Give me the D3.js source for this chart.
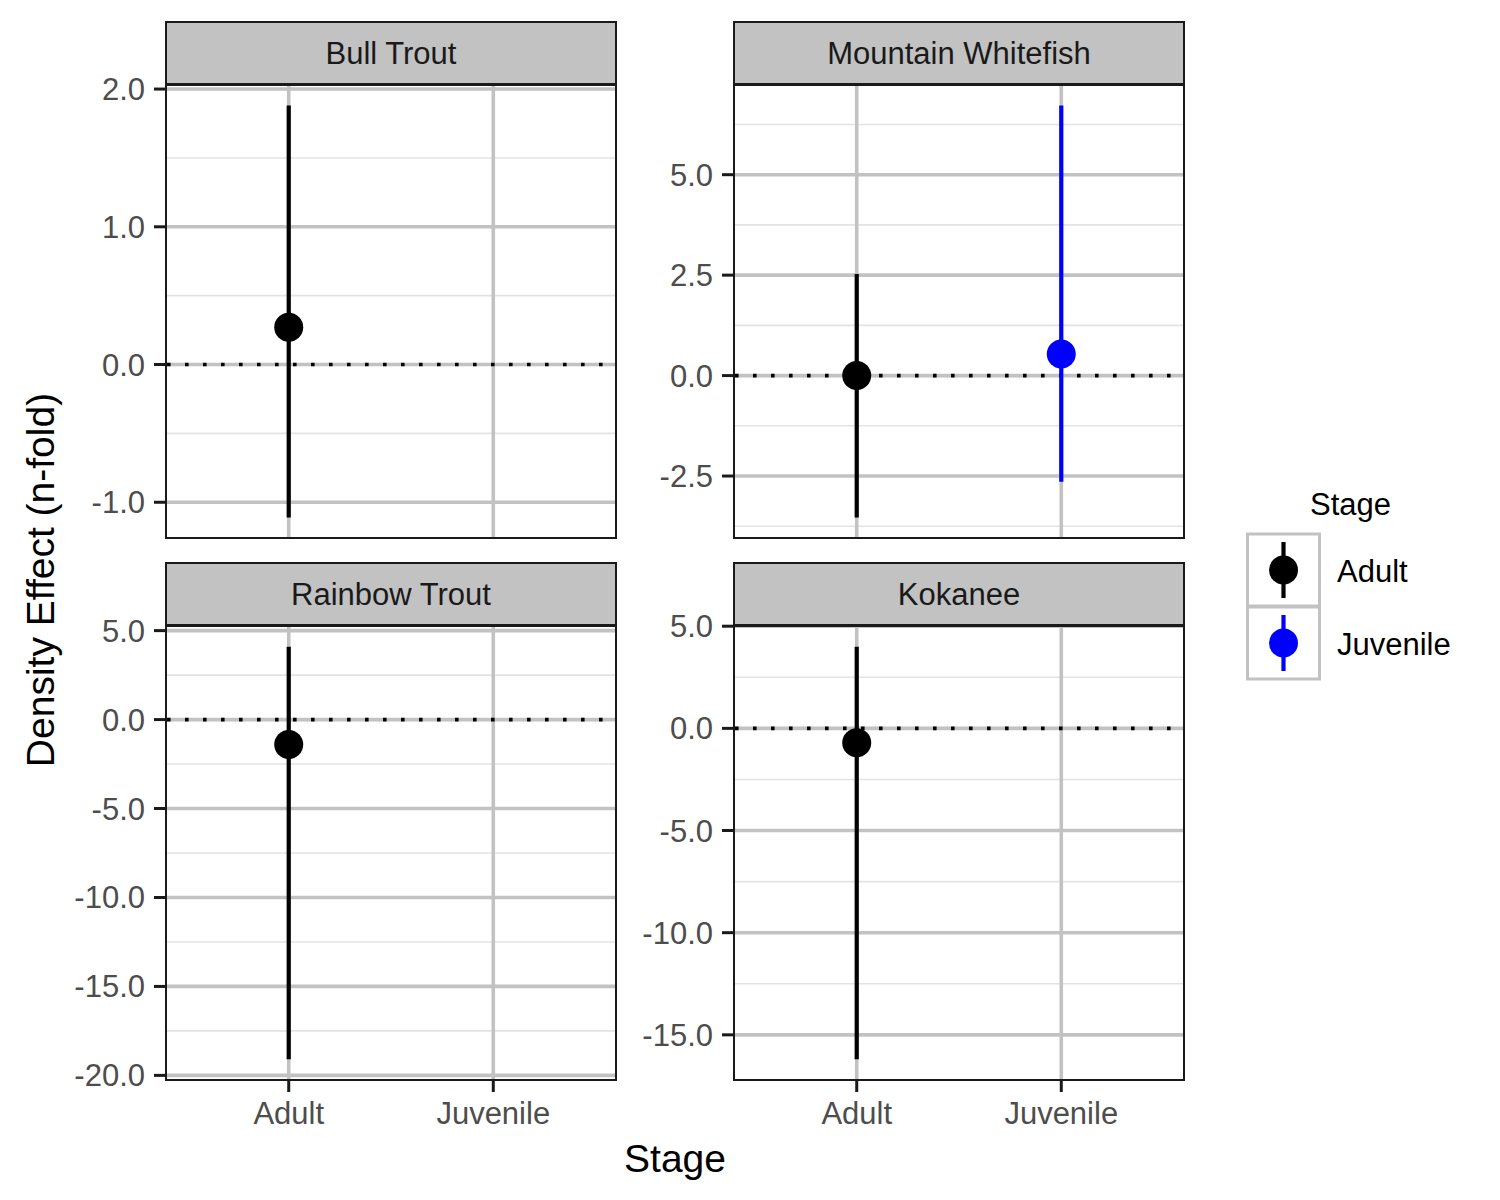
<!DOCTYPE html>
<html>
<head>
<meta charset="utf-8">
<script src="https://cdn.jsdelivr.net/npm/d3@7"></script>
<style>
  html, body { margin: 0; padding: 0; background: #fff; }
  text { font-family: "Liberation Sans", Arial, sans-serif; }
</style>
</head>
<body>
<svg id="chart" width="1500" height="1200"></svg>
<script>
// ---- data ----
const species = ["Bull Trout", "Mountain Whitefish", "Rainbow Trout", "Kokanee"];
const stages = ["Adult", "Juvenile"];
const stageColors = ["#000000", "#0000FF"];
// estimates, lower and upper bounds per species per stage (null = absent)
const estimates = [[0.27, null], [0.0, 0.54], [-1.4, null], [-0.7, null]];
const lowers    = [[-1.11, null], [-3.53, -2.64], [-19.1, null], [-16.2, null]];
const uppers    = [[1.88, null], [2.53, 6.72], [4.1, null], [4.0, null]];
const yTicks = [[-1, 0, 1, 2], [-2.5, 0, 2.5, 5], [-20, -15, -10, -5, 0, 5], [-15, -10, -5, 0, 5]];
const yMinor = [[-0.5, 0.5, 1.5], [-3.75, -1.25, 1.25, 3.75, 6.25], [-17.5, -12.5, -7.5, -2.5, 2.5], [-12.5, -7.5, -2.5, 2.5]];
const xTitle = "Stage";
const yTitle = "Density Effect (n-fold)";
const legendTitle = "Stage";

// ---- layout ----
const svg = d3.select("#chart");
const colX = [[166, 616], [734, 1184]];
const rowY = [{strip: 22, top: 85, bottom: 538}, {strip: 563, top: 626, bottom: 1080}];
const fmt = v => d3.format(".1f")(v).replace("\u2212", "-");

species.forEach((sp, i) => {
  const col = i % 2, row = Math.floor(i / 2);
  const [x0, x1] = colX[col];
  const {strip, top, bottom} = rowY[row];
  const g = svg.append("g");

  // y domain with 5% expansion
  const vals = [];
  stages.forEach((s, j) => {
    if (estimates[i][j] !== null) vals.push(lowers[i][j], uppers[i][j], estimates[i][j]);
  });
  const lo = d3.min(vals), hi = d3.max(vals), pad = (hi - lo) * 0.05;
  const y = d3.scaleLinear().domain([lo - pad, hi + pad]).range([bottom, top]);
  const x = d3.scalePoint().domain(stages).range([x0, x1]).padding(0.6);

  // background
  g.append("rect").attr("x", x0).attr("y", top).attr("width", x1 - x0).attr("height", bottom - top).attr("fill", "#fff");

  const clip = "clip" + i;
  svg.append("clipPath").attr("id", clip).append("rect")
    .attr("x", x0).attr("y", top).attr("width", x1 - x0).attr("height", bottom - top);
  const pg = g.append("g").attr("clip-path", `url(#${clip})`);

  // minor grid
  pg.selectAll(".minor").data(yMinor[i]).join("line")
    .attr("x1", x0).attr("x2", x1).attr("y1", d => y(d)).attr("y2", d => y(d))
    .attr("stroke", "#e3e3e3").attr("stroke-width", 1.6);
  // major grid
  pg.selectAll(".major").data(yTicks[i]).join("line")
    .attr("x1", x0).attr("x2", x1).attr("y1", d => y(d)).attr("y2", d => y(d))
    .attr("stroke", "#c2c2c2").attr("stroke-width", 3.6);
  pg.selectAll(".vmajor").data(stages).join("line")
    .attr("x1", d => x(d)).attr("x2", d => x(d)).attr("y1", top).attr("y2", bottom)
    .attr("stroke", "#c2c2c2").attr("stroke-width", 3.6);

  // zero dotted line
  pg.append("line").attr("x1", x0).attr("x2", x1).attr("y1", y(0)).attr("y2", y(0))
    .attr("stroke", "#000").attr("stroke-width", 3.6).attr("stroke-dasharray", "3.6,14.4")
    .attr("stroke-dashoffset", -1);

  // error bars and points
  stages.forEach((s, j) => {
    if (estimates[i][j] === null) return;
    pg.append("line").attr("x1", x(s)).attr("x2", x(s))
      .attr("y1", y(lowers[i][j])).attr("y2", y(uppers[i][j]))
      .attr("stroke", stageColors[j]).attr("stroke-width", 4.2);
    pg.append("circle").attr("cx", x(s)).attr("cy", y(estimates[i][j])).attr("r", 14.5)
      .attr("fill", stageColors[j]);
  });

  // panel border
  g.append("rect").attr("x", x0).attr("y", top).attr("width", x1 - x0).attr("height", bottom - top)
    .attr("fill", "none").attr("stroke", "#1a1a1a").attr("stroke-width", 2);

  // strip
  g.append("rect").attr("x", x0).attr("y", strip).attr("width", x1 - x0).attr("height", top - strip)
    .attr("fill", "#c2c2c2").attr("stroke", "#1a1a1a").attr("stroke-width", 2);
  g.append("line").attr("x1", x0).attr("x2", x1).attr("y1", top - 0.5).attr("y2", top - 0.5)
    .attr("stroke", "#1a1a1a").attr("stroke-width", 3);
  g.append("text").attr("x", (x0 + x1) / 2).attr("y", top - 21).attr("text-anchor", "middle")
    .attr("font-size", 31).attr("fill", "#1a1a1a").text(sp);

  // y axis
  const ya = g.append("g");
  ya.selectAll("line").data(yTicks[i]).join("line")
    .attr("x1", x0 - 12).attr("x2", x0).attr("y1", d => y(d)).attr("y2", d => y(d))
    .attr("stroke", "#1a1a1a").attr("stroke-width", 3);
  ya.selectAll("text").data(yTicks[i]).join("text")
    .attr("x", x0 - 21).attr("y", d => y(d) + 11).attr("text-anchor", "end")
    .attr("font-size", 31).attr("fill", "#4d4d4d").text(d => fmt(d));

  // x axis on bottom row
  if (row === 1) {
    const xa = g.append("g");
    xa.selectAll("line").data(stages).join("line")
      .attr("x1", d => x(d)).attr("x2", d => x(d)).attr("y1", bottom).attr("y2", bottom + 12)
      .attr("stroke", "#1a1a1a").attr("stroke-width", 3);
    xa.selectAll("text").data(stages).join("text")
      .attr("x", d => x(d)).attr("y", bottom + 44).attr("text-anchor", "middle")
      .attr("font-size", 31).attr("fill", "#4d4d4d").text(d => d);
  }
});

// axis titles
svg.append("text").attr("x", 675).attr("y", 1172).attr("text-anchor", "middle")
  .attr("font-size", 39).attr("fill", "#000").text(xTitle);
svg.append("text").attr("transform", "translate(54,580) rotate(-90)").attr("text-anchor", "middle")
  .attr("font-size", 39).attr("fill", "#000").text(yTitle);

// legend
const lg = svg.append("g");
lg.append("text").attr("x", 1310).attr("y", 515).attr("font-size", 31).attr("fill", "#000").text(legendTitle);
stages.forEach((s, j) => {
  const ky = 534 + j * 73;
  lg.append("rect").attr("x", 1247.5).attr("y", ky).attr("width", 72).attr("height", 72)
    .attr("fill", "#fff").attr("stroke", "#c2c2c2").attr("stroke-width", 3);
  lg.append("line").attr("x1", 1283.5).attr("x2", 1283.5).attr("y1", ky + 8).attr("y2", ky + 64)
    .attr("stroke", stageColors[j]).attr("stroke-width", 4.2);
  lg.append("circle").attr("cx", 1283.5).attr("cy", ky + 36).attr("r", 14.5).attr("fill", stageColors[j]);
  lg.append("text").attr("x", 1337).attr("y", ky + 48).attr("font-size", 31).attr("fill", "#000").text(s);
});
</script>
</body>
</html>
